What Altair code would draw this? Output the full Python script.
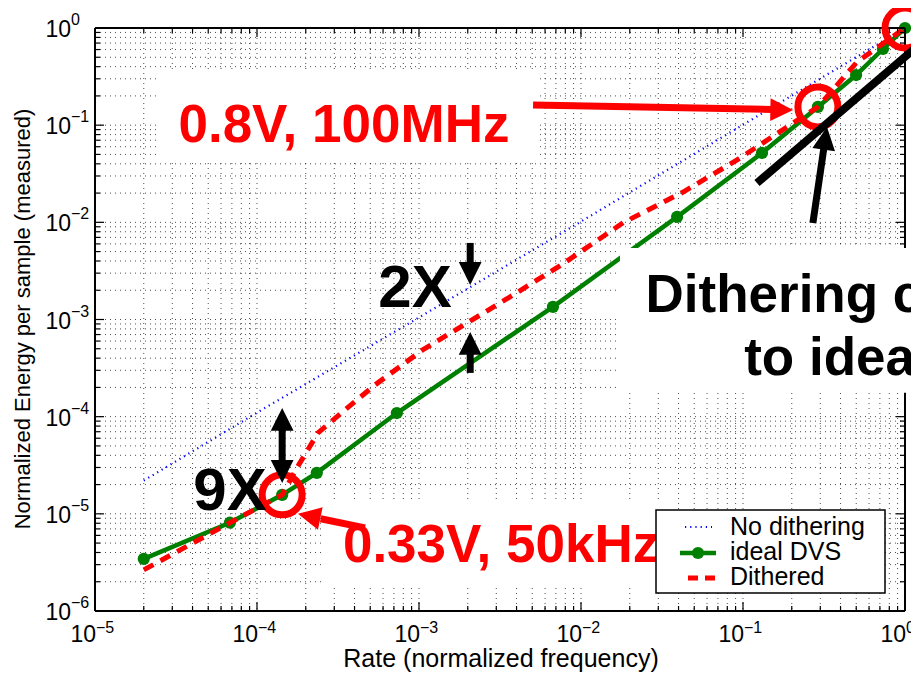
import altair as alt
import pandas as pd

# ---------------- data ----------------
ideal_x = [2e-5, 6.8e-5, 1.43e-4, 2.34e-4, 7.3e-4, 6.71e-3, 0.0392, 0.131, 0.290, 0.499, 0.731, 1.0]
ideal_y = [3.44e-6, 8.1e-6, 1.57e-5, 2.64e-5, 1.09e-4, 1.35e-3, 0.0114, 0.0518, 0.154, 0.328, 0.608, 1.0]

dith_x = [2e-5, 6.8e-5, 1.43e-4, 1.77e-4, 2.38e-4, 3.5e-4, 5.35e-4, 1.06e-3, 1.98e-3,
          3.65e-3, 7.4e-3, 0.0182, 0.0427, 0.092, 0.187, 0.290, 0.506, 1.0]
dith_y = [2.65e-6, 8.1e-6, 1.57e-5, 3.0e-5, 6.8e-5, 1.18e-4, 2.12e-4, 4.9e-4, 9.2e-4,
          1.71e-3, 3.56e-3, 9.9e-3, 0.0205, 0.0439, 0.0958, 0.154, 0.447, 1.0]

nodith_x = [2e-5, 1e-4, 1e-3, 1e-2, 0.1, 1.0]
nodith_y = [2.2e-5, 1.1e-4, 1.05e-3, 1.02e-2, 0.101, 1.0]

x_decades = [-5, -4, -3, -2, -1, 0]
y_decades = [-6, -5, -4, -3, -2, -1, 0]

legend_labels = ["No dithering", "ideal DVS", "Dithered"]
x_title = "Rate (normalized frequency)"
y_title = "Normalized Energy per sample (measured)"

# annotation texts
ann_text = ["0.8V, 100MHz", "0.33V, 50kHz", "9X", "2X", "Dithering close", "to ideal"]
ann_tx = [3.44e-4, 3.21e-3, 6.81e-5, 9.44e-4, 0.380, 0.380]
ann_ty = [0.0672, 3.21e-6, 1.1e-5, 1.35e-3, 1.2e-3, 2.69e-4]
ann_fs = [53, 53, 60, 60, 53, 53]
ann_col = ["#ff0000", "#ff0000", "black", "black", "black", "black"]

# white boxes behind texts
box_x = [2.41e-5, 2.52e-4, 0.0174]
box_x2 = [5.35e-3, 0.0344, 1.6]
box_y = [0.352, 1.39e-5, 5.45e-3]
box_y2 = [0.0439, 1.73e-6, 1.76e-4]

# rings (highlighted operating points)
ring_x = [1.43e-4, 0.290, 1.0]
ring_y = [1.57e-5, 0.154, 1.0]

# arrow shafts / thick line
sh_x = [5.06e-3, 4.64e-4, 0.270, 1.43e-4, 2.07e-3, 2.07e-3, 0.122]
sh_y = [0.161, 7.18e-6, 9.86e-3, 7.6e-5, 6.14e-3, 2.82e-4, 0.0254]
sh_x2 = [0.150, 2.47e-4, 0.316, 1.43e-4, 2.07e-3, 2.07e-3, 1.22]
sh_y2 = [0.145, 8.9e-6, 0.059, 3.4e-5, 3.7e-3, 4.45e-4, 0.668]
sh_w = [7, 7, 7, 7, 7, 7, 8]
sh_col = ["#ff0000", "#ff0000", "black", "black", "black", "black", "black"]

# arrow heads (tip positions, direction angle in degrees clockwise)
hd_x = [0.204, 1.79e-4, 0.330, 1.43e-4, 1.43e-4, 2.07e-3, 2.07e-3]
hd_y = [0.143, 1.0e-5, 0.0958, 1.23e-4, 2.08e-5, 2.27e-3, 7.45e-4]
hd_ang = [1.1, 191.8, 278.3, 270, 90, 90, 270]
hd_col = ["#ff0000", "#ff0000", "black", "black", "black", "black", "black"]

# ---------------- layout ----------------
W, H = 810, 583
FONT = "Liberation Sans"
GREEN = "#008000"
RED = "#ff0000"
BLUE = "#0000ff"

xs = alt.Scale(type="log", domain=[1e-5, 1], nice=False)
ys = alt.Scale(type="log", domain=[1e-6, 1], nice=False)

x_major = [10.0 ** d for d in x_decades]
y_major = [10.0 ** d for d in y_decades]
x_minor = [k * 10.0 ** d for d in x_decades[:-1] for k in range(2, 10)]
y_minor = [k * 10.0 ** d for d in y_decades[:-1] for k in range(2, 10)]
x_all = sorted(x_major + x_minor)
y_all = sorted(y_major + y_minor)


def XQ(f="x"):
    return alt.X(f"{f}:Q", scale=xs, axis=None)


def YQ(f="y"):
    return alt.Y(f"{f}:Q", scale=ys, axis=None)


layers = []
one = pd.DataFrame({"a": [0]})

# dotted grid (major + minor)
layers.append(alt.Chart(pd.DataFrame({"x": x_all})).mark_rule(
    color="black", strokeWidth=1, strokeDash=[1, 4], opacity=0.7)
    .encode(x=XQ(), y=alt.value(0), y2=alt.value(H)))
layers.append(alt.Chart(pd.DataFrame({"y": y_all})).mark_rule(
    color="black", strokeWidth=1, strokeDash=[1, 4], opacity=0.7)
    .encode(y=YQ(), x=alt.value(0), x2=alt.value(W)))

# series
nodith_df = pd.DataFrame({"x": nodith_x, "y": nodith_y})
ideal_df = pd.DataFrame({"x": ideal_x, "y": ideal_y})
dith_df = pd.DataFrame({"x": dith_x, "y": dith_y})

layers.append(alt.Chart(nodith_df).mark_line(color=BLUE, strokeWidth=2.2, strokeDash=[1.2, 4])
              .encode(x=XQ(), y=YQ()))
layers.append(alt.Chart(ideal_df).mark_line(color=GREEN, strokeWidth=4.5).encode(x=XQ(), y=YQ()))
layers.append(alt.Chart(ideal_df).mark_point(color=GREEN, filled=True, opacity=1, size=150)
              .encode(x=XQ(), y=YQ()))
layers.append(alt.Chart(dith_df).mark_line(color=RED, strokeWidth=5, strokeDash=[11, 8])
              .encode(x=XQ(), y=YQ()))


# frame ticks (inside)
def xt(vals, length, top):
    df = pd.DataFrame({"x": vals})
    if top:
        yy, yy2 = alt.value(0), alt.value(length)
    else:
        yy, yy2 = alt.value(H), alt.value(H - length)
    return alt.Chart(df).mark_rule(color="black", strokeWidth=1.2).encode(x=XQ(), y=yy, y2=yy2)


def yt(vals, length, right):
    df = pd.DataFrame({"y": vals})
    if right:
        xx, xx2 = alt.value(W), alt.value(W - length)
    else:
        xx, xx2 = alt.value(0), alt.value(length)
    return alt.Chart(df).mark_rule(color="black", strokeWidth=1.2).encode(y=YQ(), x=xx, x2=xx2)


for top in (False, True):
    layers.append(xt(x_major, 9, top))
    layers.append(xt(x_minor, 5, top))
for right in (False, True):
    layers.append(yt(y_major, 9, right))
    layers.append(yt(y_minor, 5, right))

# frame
layers.append(alt.Chart(one).mark_rule(color="black", strokeWidth=2)
              .encode(x=alt.value(0), x2=alt.value(W), y=alt.value(0)))
layers.append(alt.Chart(one).mark_rule(color="black", strokeWidth=2)
              .encode(x=alt.value(0), x2=alt.value(W), y=alt.value(H)))
layers.append(alt.Chart(one).mark_rule(color="black", strokeWidth=2)
              .encode(x=alt.value(0), y=alt.value(0), y2=alt.value(H)))
layers.append(alt.Chart(one).mark_rule(color="black", strokeWidth=2)
              .encode(x=alt.value(W), y=alt.value(0), y2=alt.value(H)))

# tick labels 10^k
xl = pd.DataFrame({"x": x_major, "e": ["\u2212" + str(-d) if d < 0 else str(d) for d in x_decades]})
layers.append(alt.Chart(xl).mark_text(font=FONT, fontSize=23, align="right", baseline="alphabetic",
                                      color="black", dx=1, text="10")
              .encode(x=XQ(), y=alt.value(H + 31)))
layers.append(alt.Chart(xl).mark_text(font=FONT, fontSize=16, align="left", baseline="alphabetic",
                                      color="black", dx=1)
              .encode(x=XQ(), y=alt.value(H + 22), text="e:N"))
yl = pd.DataFrame({"y": y_major, "e": ["\u2212" + str(-d) if d < 0 else str(d) for d in y_decades]})
layers.append(alt.Chart(yl).mark_text(font=FONT, fontSize=23, align="right", baseline="alphabetic",
                                      color="black", dy=9, text="10")
              .encode(y=YQ(), x=alt.value(-24)))
layers.append(alt.Chart(yl).mark_text(font=FONT, fontSize=16, align="left", baseline="alphabetic",
                                      color="black", dy=-3)
              .encode(y=YQ(), x=alt.value(-24), text="e:N"))

# axis titles
layers.append(alt.Chart(one).mark_text(font=FONT, fontSize=25, align="center", baseline="alphabetic",
                                       color="black", text=x_title)
              .encode(x=alt.value(406), y=alt.value(639)))
layers.append(alt.Chart(one).mark_text(font=FONT, fontSize=22, align="center", baseline="middle",
                                       color="black", angle=270, text=y_title)
              .encode(x=alt.value(-72), y=alt.value(291)))

# rings
ring_df = pd.DataFrame({"x": ring_x, "y": ring_y})
layers.append(alt.Chart(ring_df).mark_point(shape="circle", filled=False, color=RED, opacity=1,
                                            strokeWidth=7, size=1600)
              .encode(x=XQ(), y=YQ()))

# white boxes
box_df = pd.DataFrame({"x": box_x, "x2": box_x2, "y": box_y, "y2": box_y2})
layers.append(alt.Chart(box_df).mark_rect(color="white", opacity=1)
              .encode(x=XQ(), x2="x2:Q", y=YQ(), y2="y2:Q"))

# shafts & thick line
sh_df = pd.DataFrame({"x": sh_x, "y": sh_y, "x2": sh_x2, "y2": sh_y2, "w": sh_w, "c": sh_col})
layers.append(alt.Chart(sh_df).mark_rule(strokeCap="butt")
              .encode(x=XQ(), y=YQ(), x2="x2:Q", y2="y2:Q",
                      strokeWidth=alt.StrokeWidth("w:Q", scale=None),
                      color=alt.Color("c:N", scale=None)))

# heads
hd_df = pd.DataFrame({"x": hd_x, "y": hd_y, "a": hd_ang, "c": hd_col})
layers.append(alt.Chart(hd_df).mark_point(shape="M0,0L-2,-1L-2,1Z", filled=True, opacity=1, size=520)
              .encode(x=XQ(), y=YQ(), angle=alt.Angle("a:Q", scale=None),
                      color=alt.Color("c:N", scale=None)))

# texts
txt_df = pd.DataFrame({"x": ann_tx, "y": ann_ty, "t": ann_text, "s": ann_fs, "c": ann_col})
layers.append(alt.Chart(txt_df).mark_text(font=FONT, fontWeight="bold", align="center",
                                          baseline="alphabetic")
              .encode(x=XQ(), y=YQ(), text="t:N", size=alt.Size("s:Q", scale=None),
                      color=alt.Color("c:N", scale=None)))

# legend
layers.append(alt.Chart(one).mark_rect(fill="white", stroke="black", strokeWidth=1.5)
              .encode(x=alt.value(561), x2=alt.value(790), y=alt.value(482), y2=alt.value(565)))
layers.append(alt.Chart(one).mark_rule(color=BLUE, strokeWidth=2.2, strokeDash=[1.2, 4])
              .encode(x=alt.value(590), x2=alt.value(617), y=alt.value(499)))
layers.append(alt.Chart(one).mark_rule(color=GREEN, strokeWidth=4.5)
              .encode(x=alt.value(585), x2=alt.value(621), y=alt.value(525)))
layers.append(alt.Chart(one).mark_point(color=GREEN, filled=True, opacity=1, size=150)
              .encode(x=alt.value(603), y=alt.value(525)))
layers.append(alt.Chart(one).mark_rule(color=RED, strokeWidth=5, strokeDash=[10, 7])
              .encode(x=alt.value(593), x2=alt.value(621), y=alt.value(550)))
for lab, yy in zip(legend_labels, [507, 532, 557]):
    layers.append(alt.Chart(one).mark_text(font=FONT, fontSize=25, align="left",
                                           baseline="alphabetic", color="black", text=lab)
                  .encode(x=alt.value(635), y=alt.value(yy)))

chart = alt.layer(*layers).properties(
    width=W, height=H,
    autosize=alt.AutoSizeParams(type="none"),
    padding={"left": 87, "top": 20, "right": 6, "bottom": 62},
    background="white",
).configure_view(stroke=None)

chart.save("out.html", embed_options={"renderer": "svg", "actions": False})
